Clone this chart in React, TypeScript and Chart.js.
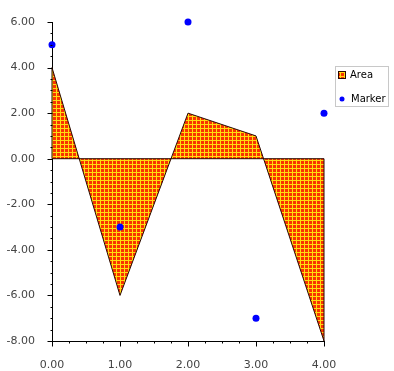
import React, { useEffect, useRef } from 'react';
import { Chart, registerables } from 'chart.js';
Chart.register(...registerables);

const areaX = [0, 1, 2, 3, 4];
const areaY = [4, -6, 2, 1, -8];
const markerX = [0, 1, 2, 3, 4];
const markerY = [5, -3, 6, -7, 2];
const seriesNames = ['Area', 'Marker'];
const xRange = [0, 4];
const yRange = [-8, 6];
const xMajorStep = 1;
const xMinorStep = 0.25;
const yMajorStep = 2;
const yMinorStep = 0.5;

const FONT = 'DejaVu Sans';

function makePattern(ctx: CanvasRenderingContext2D): CanvasPattern | string {
  const c = document.createElement('canvas');
  c.width = 4;
  c.height = 4;
  const p = c.getContext('2d');
  if (!p) return '#f03000';
  p.fillStyle = '#ffdc10';
  p.fillRect(0, 0, 4, 4);
  p.fillStyle = '#f83400';
  p.fillRect(1, 1, 3, 3);
  return ctx.createPattern(c, 'repeat') || '#f03000';
}

const outlinePlugin = {
  id: 'areaOutline',
  afterDatasetDraw(chart: any, args: any) {
    if (args.index !== 0) return;
    const { ctx } = chart;
    const xs = chart.scales.x;
    const ys = chart.scales.y;
    ctx.save();
    ctx.beginPath();
    ctx.moveTo(xs.getPixelForValue(areaX[0]), ys.getPixelForValue(0));
    for (let i = 0; i < areaX.length; i++) {
      ctx.lineTo(xs.getPixelForValue(areaX[i]), ys.getPixelForValue(areaY[i]));
    }
    ctx.lineTo(xs.getPixelForValue(areaX[areaX.length - 1]), ys.getPixelForValue(0));
    ctx.closePath();
    ctx.strokeStyle = '#2a0800';
    ctx.lineWidth = 1;
    ctx.stroke();
    ctx.restore();
  },
};

const tickPlugin = {
  id: 'tickMarks',
  afterDraw(chart: any) {
    const { ctx, chartArea } = chart;
    const xs = chart.scales.x;
    const ys = chart.scales.y;
    ctx.save();
    ctx.strokeStyle = '#000';
    ctx.lineWidth = 1;
    ctx.beginPath();
    const nY = Math.round((yRange[1] - yRange[0]) / yMinorStep);
    for (let i = 0; i <= nY; i++) {
      const v = yRange[0] + i * yMinorStep;
      const major = Math.abs(v / yMajorStep - Math.round(v / yMajorStep)) < 1e-6;
      const py = Math.round(ys.getPixelForValue(v)) + 0.5;
      const x0 = Math.round(chartArea.left) + 0.5;
      ctx.moveTo(x0, py);
      ctx.lineTo(x0 - (major ? 5 : 2), py);
    }
    const nX = Math.round((xRange[1] - xRange[0]) / xMinorStep);
    for (let i = 0; i <= nX; i++) {
      const v = xRange[0] + i * xMinorStep;
      const major = Math.abs(v / xMajorStep - Math.round(v / xMajorStep)) < 1e-6;
      const px = Math.round(xs.getPixelForValue(v)) + 0.5;
      const y0 = Math.round(chartArea.bottom) + 0.5;
      ctx.moveTo(px, y0);
      ctx.lineTo(px, y0 + (major ? 5 : 2));
    }
    ctx.stroke();
    ctx.restore();
  },
};

const legendPlugin = {
  id: 'customLegend',
  afterDraw(chart: any) {
    const { ctx } = chart;
    const pattern = chart.data.datasets[0].backgroundColor;
    const bx = 335.5, by = 66.5, bw = 53, bh = 40;
    ctx.save();
    ctx.fillStyle = '#fff';
    ctx.fillRect(bx, by, bw, bh);
    ctx.strokeStyle = '#c8c8c8';
    ctx.lineWidth = 1;
    ctx.strokeRect(bx, by, bw, bh);
    ctx.fillStyle = pattern;
    ctx.fillRect(338, 71, 8, 8);
    ctx.strokeStyle = '#2a0800';
    ctx.strokeRect(338.5, 71.5, 7, 7);
    ctx.fillStyle = '#0000ff';
    ctx.beginPath();
    ctx.arc(342, 99, 2.5, 0, Math.PI * 2);
    ctx.fill();
    ctx.fillStyle = '#000';
    ctx.font = `10px "${FONT}"`;
    ctx.textBaseline = 'middle';
    ctx.textAlign = 'left';
    ctx.fillText(seriesNames[0], 350, 75.5);
    ctx.fillText(seriesNames[1], 351, 99.5);
    ctx.restore();
  },
};

export default function App() {
  const ref = useRef<HTMLCanvasElement | null>(null);
  useEffect(() => {
    document.body.style.margin = '0';
    const canvas = ref.current;
    if (!canvas) return;
    const ctx = canvas.getContext('2d');
    if (!ctx) return;
    const pattern = makePattern(ctx);
    const chart = new Chart(ctx, {
      type: 'scatter',
      data: {
        datasets: [
          {
            label: seriesNames[0],
            type: 'line',
            data: areaX.map((x, i) => ({ x, y: areaY[i] })),
            showLine: true,
            fill: 'origin',
            backgroundColor: pattern as any,
            borderColor: '#2a0800',
            borderWidth: 0,
            pointRadius: 0,
            tension: 0,
            order: 1,
          } as any,
          {
            label: seriesNames[1],
            data: markerX.map((x, i) => ({ x, y: markerY[i] })),
            backgroundColor: '#0000ff',
            borderColor: '#0000ff',
            borderWidth: 0,
            pointRadius: 3.5,
            clip: false,
            order: 0,
          } as any,
        ],
      },
      options: {
        animation: false,
        responsive: false,
        events: [],
        layout: { padding: { top: 22, right: 70, left: 0, bottom: 0 } },
        plugins: { legend: { display: false }, tooltip: { enabled: false } },
        scales: {
          x: {
            type: 'linear',
            min: xRange[0],
            max: xRange[1],
            grid: { display: false },
            border: { display: true, color: '#000', width: 1 },
            ticks: {
              stepSize: xMajorStep,
              padding: 10,
              color: '#444',
              font: { family: FONT, size: 11 },
              callback: (v: any) => Number(v).toFixed(2),
              maxRotation: 0,
            },
            afterFit: (s: any) => { s.height = 30; },
          },
          y: {
            type: 'linear',
            min: yRange[0],
            max: yRange[1],
            grid: { display: false },
            border: { display: true, color: '#000', width: 1 },
            ticks: {
              stepSize: yMajorStep,
              padding: 9,
              color: '#444',
              font: { family: FONT, size: 11 },
              callback: (v: any) => Number(v).toFixed(2),
            },
            afterFit: (s: any) => { s.width = 52; },
          },
        },
      },
      plugins: [outlinePlugin, tickPlugin, legendPlugin],
    });
    return () => chart.destroy();
  }, []);
  return (
    <div style={{ width: 394, height: 371 }}>
      <canvas ref={ref} width={394} height={371} style={{ display: 'block' }} />
    </div>
  );
}
